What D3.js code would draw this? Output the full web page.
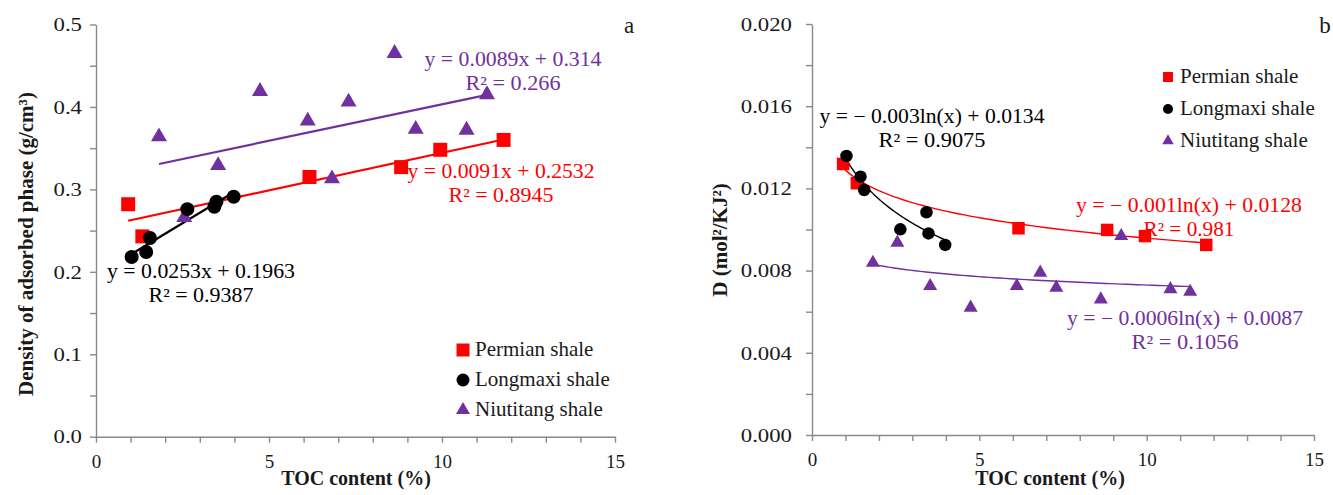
<!DOCTYPE html>
<html>
<head>
<meta charset="utf-8">
<script src="https://cdn.jsdelivr.net/npm/d3@7"></script>
<style>
  body { margin: 0; background: #fff; }
  svg text { font-family: "Liberation Serif", "Tinos", "Times New Roman", "Nimbus Roman", "DejaVu Serif", serif; }
</style>
</head>
<body>
<div id="chart"></div>
<script>
// TOC content (%) of each sample
const permianToc = [0.93, 1.34, 6.17, 8.82, 9.95, 11.78];
const longmaxiToc = [1.03, 1.45, 1.56, 2.64, 3.42, 3.48, 3.98];
const niutitangToc = [1.82, 2.55, 3.53, 4.74, 6.12, 6.82, 7.30, 8.63, 9.24, 10.71, 11.30];

// panel a: density of adsorbed phase (g/cm3)
const permianDensity = [0.282, 0.243, 0.315, 0.327, 0.348, 0.360];
const longmaxiDensity = [0.218, 0.224, 0.241, 0.276, 0.279, 0.285, 0.291];
const niutitangDensity = [0.364, 0.266, 0.329, 0.419, 0.383, 0.313, 0.406, 0.465, 0.373, 0.372, 0.415];

// panel b: D (mol2/KJ2)
const permianD = [0.01319, 0.01225, 0.01006, 0.00998, 0.00968, 0.00925];
const longmaxiD = [0.01358, 0.01257, 0.01192, 0.01001, 0.01084, 0.00981, 0.00925];
const niutitangD = [0.00838, 0.00936, 0.00725, 0.00620, 0.00725, 0.00790, 0.00717, 0.00660, 0.00968, 0.00710, 0.00697];

const seriesNames = ["Permian shale", "Longmaxi shale", "Niutitang shale"];

// trendline labels (order: Permian, Longmaxi, Niutitang)
const eqA = ["y = 0.0091x + 0.2532", "y = 0.0253x + 0.1963", "y = 0.0089x + 0.314"];
const r2A = ["R² = 0.8945", "R² = 0.9387", "R² = 0.266"];
const eqB = ["y = − 0.001ln(x) + 0.0128", "y = − 0.003ln(x) + 0.0134", "y = − 0.0006ln(x) + 0.0087"];
const r2B = ["R² = 0.981", "R² = 0.9075", "R² = 0.1056"];

const xTicks = d3.range(0, 16);
const xTickLabels = ["0", "5", "10", "15"];
const yTicksA = d3.range(0, 11).map((i) => i * 0.05);
const yTicksB = d3.range(0, 11).map((i) => i * 0.002);

const COLORS = ["#ff0000", "#000000", "#7030a0"];
const AXIS_COLOR = "#8a8a8a";
const TEXT_COLOR = "#1a1a1a";

const width = 1333;
const height = 495;

const svg = d3
  .select("#chart")
  .append("svg")
  .attr("width", width)
  .attr("height", height);

function linFit(xs, ys) {
  const mx = d3.mean(xs), my = d3.mean(ys);
  const sxy = d3.sum(xs, (x, i) => (x - mx) * (ys[i] - my));
  const sxx = d3.sum(xs, (x) => (x - mx) * (x - mx));
  const a = sxy / sxx;
  return { a, b: my - a * mx };
}

// y = a ln(x) + b
function logFit(xs, ys) {
  return linFit(xs.map(Math.log), ys);
}

function marker(type, size) {
  if (type === 0) return d3.symbol().type(d3.symbolSquare).size(size * size)();
  if (type === 1) return d3.symbol().type(d3.symbolCircle).size(Math.PI * size * size / 4)();
  return d3.symbol().type(d3.symbolTriangle).size(Math.sqrt(3) / 4 * size * size)();
}

function drawPanel(p) {
  const x = d3.scaleLinear().domain([0, 15]).range(p.xRange);
  const y = d3.scaleLinear().domain(p.yDomain).range(p.yRange);
  const g = svg.append("g");

  // y axis
  const yAxis = g
    .append("g")
    .attr("transform", `translate(${p.xRange[0]},0)`)
    .call(
      d3.axisLeft(y)
        .tickValues(p.yTicks)
        .tickSizeInner(6)
        .tickSizeOuter(0)
        .tickFormat((d, i) => (i % 2 === 0 ? d3.format(p.yFormat)(d) : ""))
    );
  yAxis.attr("font-family", null);
  yAxis.selectAll("text")
    .attr("x", -p.yLabelGap / 1.2)
    .attr("dy", "0.33em")
    .attr("transform", "scale(1.2,1)")
    .style("font-size", "19px")
    .attr("fill", TEXT_COLOR);

  // x axis
  const xAxis = g
    .append("g")
    .attr("transform", `translate(0,${p.yRange[0]})`)
    .call(
      d3.axisBottom(x)
        .tickValues(xTicks)
        .tickSizeInner(6)
        .tickSizeOuter(0)
        .tickFormat((d) => (xTickLabels.includes(String(d)) ? String(d) : ""))
    );
  xAxis.attr("font-family", null);
  xAxis.selectAll("text")
    .attr("y", 31)
    .attr("dy", 0)
    .style("font-size", "19px")
    .attr("fill", TEXT_COLOR);

  g.selectAll(".domain, .tick line")
    .attr("stroke", AXIS_COLOR)
    .attr("stroke-width", 1.4);

  // trendlines
  p.series.forEach((s, k) => {
    const xs = s.toc;
    const lo = d3.min(xs), hi = d3.max(xs);
    let pts;
    if (p.fit === "lin") {
      const f = linFit(xs, s.vals);
      pts = [lo, hi].map((v) => [v, f.a * v + f.b]);
    } else {
      const f = logFit(xs, s.vals);
      pts = d3.range(0, 61).map((i) => lo + (hi - lo) * i / 60).map((v) => [v, f.a * Math.log(v) + f.b]);
    }
    g.append("path")
      .attr("d", d3.line().x((d) => x(d[0])).y((d) => y(d[1]))(pts))
      .attr("fill", "none")
      .attr("stroke", COLORS[k])
      .attr("stroke-width", p.lineWidth);
  });

  // markers: Niutitang first, then Permian, Longmaxi on top
  [2, 0, 1].forEach((k) => {
    const s = p.series[k];
    g.selectAll(null)
      .data(s.toc.map((t, i) => ({ t, v: s.vals[i] })))
      .enter()
      .append("path")
      .attr("transform", (d) => `translate(${x(d.t)},${y(d.v)})`)
      .attr("d", marker(k, p.markerSize[k]))
      .attr("fill", COLORS[k]);
  });

  // trendline equations
  p.labels.forEach((lab, k) => {
    [[p.eq[k], 0, lab.w1], [p.r2[k], 24, lab.w2]].forEach(([txt, dy, w]) => {
      g.append("text")
        .attr("x", lab.cx - w / 2)
        .attr("y", lab.y + dy)
        .attr("textLength", w)
        .attr("lengthAdjust", "spacingAndGlyphs")
        .style("font-size", "20px")
        .attr("fill", COLORS[k])
        .text(txt);
    });
  });

  // legend
  seriesNames.forEach((name, k) => {
    const ly = p.legend.y + k * p.legend.step;
    g.append("path")
      .attr("transform", `translate(${p.legend.x},${ly})`)
      .attr("d", marker(k, p.legend.size[k]))
      .attr("fill", COLORS[k]);
    g.append("text")
      .attr("x", p.legend.x + 12)
      .attr("y", ly + 6)
      .style("font-size", "21px")
      .attr("fill", TEXT_COLOR)
      .text(name);
  });

  // axis titles
  g.append("text")
    .attr("x", p.xTitleX)
    .attr("y", 485)
    .attr("text-anchor", "middle")
    .style("font-size", "20px")
    .style("font-weight", "bold")
    .attr("fill", TEXT_COLOR)
    .text("TOC content (%)");

  g.append("text")
    .attr("transform", `translate(${p.yTitle[0]},${p.yTitle[1]}) rotate(-90)`)
    .attr("text-anchor", "middle")
    .style("font-size", "21px")
    .style("font-weight", "bold")
    .attr("fill", TEXT_COLOR)
    .text(p.yTitleText);

  g.append("text")
    .attr("x", p.letter[0])
    .attr("y", p.letter[1])
    .attr("text-anchor", "middle")
    .style("font-size", "23px")
    .attr("fill", TEXT_COLOR)
    .text(p.letterText);
}

drawPanel({
  xRange: [96, 615],
  yRange: [436.7, 24.5],
  yDomain: [0, 0.5],
  yTicks: yTicksA,
  yFormat: ".1f",
  yLabelGap: 14,
  fit: "lin",
  lineWidth: 2.2,
  markerSize: [14, 14, 16],
  series: [
    { toc: permianToc, vals: permianDensity },
    { toc: longmaxiToc, vals: longmaxiDensity },
    { toc: niutitangToc, vals: niutitangDensity },
  ],
  eq: eqA,
  r2: r2A,
  labels: [
    { cx: 501, y: 178, w1: 187, w2: 105 },
    { cx: 201, y: 278, w1: 188, w2: 105 },
    { cx: 513, y: 66, w1: 177, w2: 95 },
  ],
  legend: { x: 463, y: 350, step: 30, size: [13, 13, 14] },
  xTitleX: 356,
  yTitle: [33, 244],
  yTitleText: "Density of adsorbed phase (g/cm³)",
  letter: [629, 33],
  letterText: "a",
});

drawPanel({
  xRange: [812, 1314],
  yRange: [435, 24],
  yDomain: [0, 0.02],
  yTicks: yTicksB,
  yFormat: ".3f",
  yLabelGap: 20,
  fit: "log",
  lineWidth: 1.4,
  markerSize: [12.5, 12.5, 14],
  series: [
    { toc: permianToc, vals: permianD },
    { toc: longmaxiToc, vals: longmaxiD },
    { toc: niutitangToc, vals: niutitangD },
  ],
  eq: eqB,
  r2: r2B,
  labels: [
    { cx: 1189, y: 212, w1: 226, w2: 91 },
    { cx: 932, y: 123, w1: 225, w2: 107 },
    { cx: 1185, y: 325, w1: 236, w2: 107 },
  ],
  legend: { x: 1168, y: 77, step: 32, size: [10, 10, 11.5] },
  xTitleX: 1050,
  yTitle: [727, 240],
  yTitleText: "D (mol²/KJ²)",
  letter: [1325, 33],
  letterText: "b",
});
</script>
</body>
</html>
